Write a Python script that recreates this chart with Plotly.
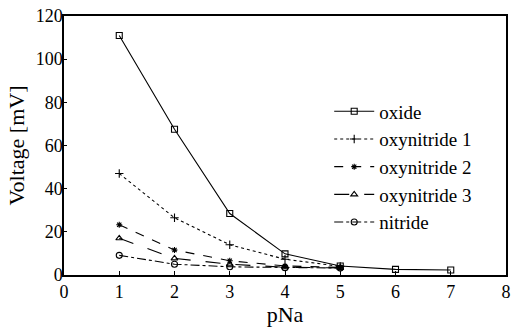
import plotly.graph_objects as go

pna = [1, 2, 3, 4, 5, 6, 7]
oxide = [111, 67.5, 28.5, 9.8, 4.2, 2.6, 2.3]
pna_short = [1, 2, 3, 4, 5]
oxynitride1 = [47, 26.5, 14, 7.3, 4.0]
oxynitride2 = [23.3, 11.6, 6.6, 4.2, 3.5]
oxynitride3 = [17, 7.7, 5.0, 3.6, 3.3]
nitride = [9.1, 5.0, 3.8, 3.4, 3.2]

names = ["oxide", "oxynitride 1", "oxynitride 2", "oxynitride 3", "nitride"]
xs = [pna, pna_short, pna_short, pna_short, pna_short]
ys = [oxide, oxynitride1, oxynitride2, oxynitride3, nitride]
dashes = ["solid", "dot", "dash", "longdash", "dashdot"]
symbols = ["square-open", "cross-thin-open", "asterisk-open", "triangle-up-open", "circle-open"]
sizes = [6, 6, 5, 6, 6]

FONT = "Times New Roman, Liberation Serif, serif"
fig = go.Figure()
for n, x, y, d, s, sz in zip(names, xs, ys, dashes, symbols, sizes):
    fig.add_trace(go.Scatter(
        x=x, y=y, name=n, mode="lines+markers",
        line=dict(color="black", width=1.1, dash=d),
        marker=dict(symbol=s, size=sz, color="black", line=dict(color="black", width=1.1)),
    ))

fig.update_layout(
    width=517, height=328,
    margin=dict(l=64, r=11, t=16, b=53),
    paper_bgcolor="white", plot_bgcolor="white",
    font=dict(family=FONT, size=18, color="black"),
    showlegend=True,
    legend=dict(x=0.6, y=0.705, xanchor="left", yanchor="top",
                bgcolor="rgba(0,0,0,0)", font=dict(family=FONT, size=19),
                tracegroupgap=0, itemwidth=40),
    xaxis=dict(range=[0, 8], tickvals=[0, 1, 2, 3, 4, 5, 6, 7, 8],
               showgrid=False, zeroline=False, showline=True, linecolor="black",
               linewidth=1.5, mirror=True, ticks="inside", ticklen=4,
               tickcolor="black", title=dict(text="pNa", standoff=3),
               ticklabelstandoff=0, automargin=False,
               tickfont=dict(family=FONT, size=18)),
    yaxis=dict(range=[0, 120], tickvals=[0, 20, 40, 60, 80, 100, 120],
               showgrid=False, zeroline=False, showline=True, linecolor="black",
               linewidth=1.5, mirror=True, ticks="inside", ticklen=3,
               tickcolor="black", title=dict(text="Voltage [mV]", standoff=5),
               ticklabelstandoff=-4, automargin=False,
               tickfont=dict(family=FONT, size=18)),
)
fig.write_html("out.html")
